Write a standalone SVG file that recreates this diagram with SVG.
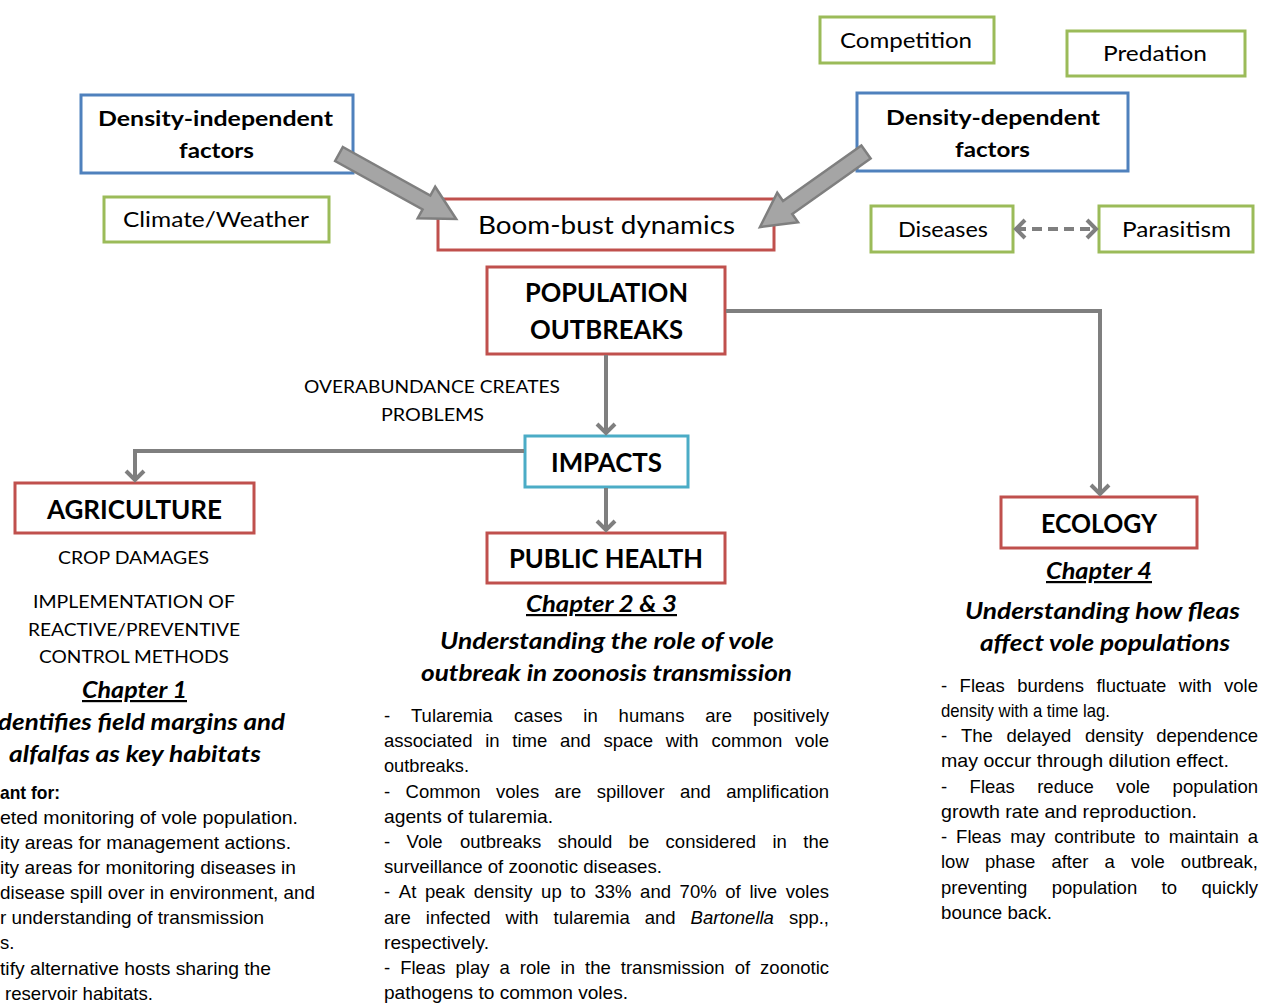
<svg xmlns="http://www.w3.org/2000/svg" width="1263" height="1003" viewBox="0 0 1263 1003">
<style>
.box{fill:#fff;stroke-width:3}
.g{stroke:#9BBB59}.b{stroke:#4F81BD}.r{stroke:#C0504D}.c{stroke:#4BACC6}
text{font-family:Lato,"Liberation Sans",sans-serif;fill:#000}
.lbl{font-size:21px}
.bl{font-size:21px;font-weight:bold}
.hd{font-size:26px;font-weight:bold}
.cap{font-size:18px}
.ch{font-size:22px;font-weight:bold;font-style:italic;text-decoration:underline}
.ti{font-size:22px;font-weight:bold;font-style:italic}
.p{font-size:18.5px;font-family:"Liberation Sans",Arial,sans-serif}
.e{text-anchor:end}
.conn{fill:none;stroke:#7F7F7F;stroke-width:4}
.blk{fill:#A5A5A5;stroke:#7F7F7F;stroke-width:2.5}
</style>
<defs>
<marker id="chev" markerUnits="userSpaceOnUse" markerWidth="30" markerHeight="30" viewBox="-15 -15 30 30" refX="0" refY="0" orient="auto-start-reverse">
<path d="M-9,-9 L0,0 L-9,9" fill="none" stroke="#7F7F7F" stroke-width="4"/>
</marker>
</defs>

<g id="competition"><rect class="box g" x="820" y="17" width="174" height="46"/><text class="lbl" x="840" y="48" textLength="132" lengthAdjust="spacingAndGlyphs">Competition</text></g>
<g id="predation"><rect class="box g" x="1067" y="31" width="178" height="45"/><text class="lbl" x="1103" y="61" textLength="104" lengthAdjust="spacingAndGlyphs">Predation</text></g>
<g id="density-independent"><rect class="box b" x="81" y="95" width="272" height="78"/><text class="bl" x="98" y="126" textLength="235" lengthAdjust="spacingAndGlyphs">Density-independent</text><text class="bl" x="179" y="158" textLength="75" lengthAdjust="spacingAndGlyphs">factors</text></g>
<g id="density-dependent"><rect class="box b" x="857" y="93" width="271" height="78"/><text class="bl" x="886" y="125" textLength="214" lengthAdjust="spacingAndGlyphs">Density-dependent</text><text class="bl" x="955" y="157" textLength="75" lengthAdjust="spacingAndGlyphs">factors</text></g>
<g id="climate"><rect class="box g" x="104" y="197" width="225" height="45"/><text class="lbl" x="123" y="227" textLength="186" lengthAdjust="spacingAndGlyphs">Climate/Weather</text></g>
<g id="boom-bust"><rect class="box r" x="438" y="199" width="336" height="51"/><text style="font-size:25px" x="478" y="234" textLength="257" lengthAdjust="spacingAndGlyphs">Boom-bust dynamics</text></g>
<g id="diseases"><rect class="box g" x="871" y="206" width="142" height="46"/><text class="lbl" x="898" y="237" textLength="90" lengthAdjust="spacingAndGlyphs">Diseases</text></g>
<g id="parasitism"><rect class="box g" x="1099" y="206" width="154" height="46"/><text class="lbl" x="1122" y="237" textLength="109" lengthAdjust="spacingAndGlyphs">Parasitism</text></g>
<g id="population-outbreaks"><rect class="box r" x="487" y="267" width="238" height="87"/><text class="hd" x="525" y="302" textLength="163" lengthAdjust="spacingAndGlyphs">POPULATION</text><text class="hd" x="530" y="339" textLength="153" lengthAdjust="spacingAndGlyphs">OUTBREAKS</text></g>
<g id="overabundance-label"><text class="cap" x="304" y="393" textLength="256" lengthAdjust="spacingAndGlyphs">OVERABUNDANCE CREATES</text><text class="cap" x="381" y="421" textLength="103" lengthAdjust="spacingAndGlyphs">PROBLEMS</text></g>
<g id="impacts"><rect class="box c" x="525" y="436" width="163" height="51"/><text class="hd" x="551" y="472" textLength="111" lengthAdjust="spacingAndGlyphs">IMPACTS</text></g>

<g id="agriculture"><rect class="box r" x="15" y="483" width="239" height="50"/><text class="hd" x="47" y="519" textLength="175" lengthAdjust="spacingAndGlyphs">AGRICULTURE</text>
<text class="cap" x="58" y="564" textLength="151" lengthAdjust="spacingAndGlyphs">CROP DAMAGES</text>
<text class="cap" x="33" y="608" textLength="202" lengthAdjust="spacingAndGlyphs">IMPLEMENTATION OF</text>
<text class="cap" x="28" y="636" textLength="212" lengthAdjust="spacingAndGlyphs">REACTIVE/PREVENTIVE</text>
<text class="cap" x="39" y="663" textLength="190" lengthAdjust="spacingAndGlyphs">CONTROL METHODS</text>
<text class="ch" x="82" y="698" textLength="105" lengthAdjust="spacingAndGlyphs">Chapter 1</text>
<text class="ti" x="-2" y="730" textLength="287" lengthAdjust="spacingAndGlyphs">dentifies field margins and</text>
<text class="ti" x="9" y="762" textLength="252" lengthAdjust="spacingAndGlyphs">alfalfas as key habitats</text>
<text class="p" x="0" y="799" font-weight="bold" textLength="60" lengthAdjust="spacingAndGlyphs">ant for:</text>
<text class="p" x="0" y="824" textLength="298" lengthAdjust="spacingAndGlyphs">eted monitoring of vole population.</text>
<text class="p" x="0" y="849" textLength="291" lengthAdjust="spacingAndGlyphs">ity areas for management actions.</text>
<text class="p" x="0" y="874" textLength="296" lengthAdjust="spacingAndGlyphs">ity areas for monitoring diseases in</text>
<text class="p" x="0" y="899" textLength="315" lengthAdjust="spacingAndGlyphs">disease spill over in environment, and</text>
<text class="p" x="0" y="924" textLength="264" lengthAdjust="spacingAndGlyphs">r understanding of transmission</text>
<text class="p" x="0" y="949">s.</text>
<text class="p" x="0" y="975" textLength="271" lengthAdjust="spacingAndGlyphs">tify alternative hosts sharing the</text>
<text class="p" x="5" y="1000" textLength="148" lengthAdjust="spacingAndGlyphs">reservoir habitats.</text>
</g>

<g id="public-health"><rect class="box r" x="487" y="533" width="238" height="50"/><text class="hd" x="509" y="568" textLength="194" lengthAdjust="spacingAndGlyphs">PUBLIC HEALTH</text>
<text class="ch" x="526" y="612" textLength="151" lengthAdjust="spacingAndGlyphs">Chapter 2 &amp; 3</text>
<text class="ti" x="440" y="649" textLength="334" lengthAdjust="spacingAndGlyphs">Understanding the role of vole</text>
<text class="ti" x="421" y="681" textLength="371" lengthAdjust="spacingAndGlyphs">outbreak in zoonosis transmission</text>
<text class="p" y="722"><tspan x="384">-</tspan> <tspan x="411">Tularemia</tspan> <tspan x="514.1">cases</tspan> <tspan x="583.3">in</tspan> <tspan x="618.6">humans</tspan> <tspan x="705.3">are</tspan> <tspan class="e" x="829">positively</tspan></text>
<text class="p" y="747"><tspan x="384">associated</tspan> <tspan x="485.2">in</tspan> <tspan x="512.3">time</tspan> <tspan x="560">and</tspan> <tspan x="603.6">space</tspan> <tspan x="665.7">with</tspan> <tspan x="711.4">common</tspan> <tspan class="e" x="829">vole</tspan></text>
<text class="p" x="384" y="772" textLength="85" lengthAdjust="spacingAndGlyphs">outbreaks.</text>
<text class="p" y="798"><tspan x="384">-</tspan> <tspan x="405.6">Common</tspan> <tspan x="496">voles</tspan> <tspan x="554.6">are</tspan> <tspan x="596.7">spillover</tspan> <tspan x="680">and</tspan> <tspan class="e" x="829">amplification</tspan></text>
<text class="p" x="384" y="823" textLength="169" lengthAdjust="spacingAndGlyphs">agents of tularemia.</text>
<text class="p" y="848"><tspan x="384">-</tspan> <tspan x="406.6">Vole</tspan> <tspan x="460">outbreaks</tspan> <tspan x="557.7">should</tspan> <tspan x="628.6">be</tspan> <tspan x="665.6">considered</tspan> <tspan x="772.5">in</tspan> <tspan class="e" x="829">the</tspan></text>
<text class="p" x="384" y="873" textLength="278" lengthAdjust="spacingAndGlyphs">surveillance of zoonotic diseases.</text>
<text class="p" y="898"><tspan x="384">-</tspan> <tspan x="398.8">At</tspan> <tspan x="425">peak</tspan> <tspan x="473.8">density</tspan> <tspan x="541.1">up</tspan> <tspan x="570.3">to</tspan> <tspan x="594.4">33%</tspan> <tspan x="640.1">and</tspan> <tspan x="679.6">70%</tspan> <tspan x="725.3">of</tspan> <tspan x="749.4">live</tspan> <tspan class="e" x="829">voles</tspan></text>
<text class="p" y="924"><tspan x="384">are</tspan> <tspan x="425.8">infected</tspan> <tspan x="505.6">with</tspan> <tspan x="553.6">tularemia</tspan> <tspan x="644.7">and</tspan> <tspan x="690.6" font-style="italic">Bartonella</tspan> <tspan class="e" x="829">spp.,</tspan></text>
<text class="p" x="384" y="949" textLength="105" lengthAdjust="spacingAndGlyphs">respectively.</text>
<text class="p" y="974"><tspan x="384">-</tspan> <tspan x="400.2">Fleas</tspan> <tspan x="455.5">play</tspan> <tspan x="499.4">a</tspan> <tspan x="519.8">role</tspan> <tspan x="560.6">in</tspan> <tspan x="585.1">the</tspan> <tspan x="620.8">transmission</tspan> <tspan x="734.7">of</tspan> <tspan class="e" x="829">zoonotic</tspan></text>
<text class="p" x="384" y="999" textLength="244" lengthAdjust="spacingAndGlyphs">pathogens to common voles.</text>
</g>

<g id="ecology"><rect class="box r" x="1001" y="497" width="196" height="51"/><text class="hd" x="1041" y="533" textLength="116" lengthAdjust="spacingAndGlyphs">ECOLOGY</text>
<text class="ch" x="1046" y="579" textLength="106" lengthAdjust="spacingAndGlyphs">Chapter 4</text>
<text class="ti" x="965" y="619" textLength="275" lengthAdjust="spacingAndGlyphs">Understanding how fleas</text>
<text class="ti" x="980" y="651" textLength="250" lengthAdjust="spacingAndGlyphs">affect vole populations</text>
<text class="p" y="692"><tspan x="941">-</tspan> <tspan x="959.6">Fleas</tspan> <tspan x="1017.2">burdens</tspan> <tspan x="1096.4">fluctuate</tspan> <tspan x="1178.8">with</tspan> <tspan class="e" x="1258">vole</tspan></text>
<text class="p" x="941" y="717" textLength="169" lengthAdjust="spacingAndGlyphs">density with a time lag.</text>
<text class="p" y="742"><tspan x="941">-</tspan> <tspan x="960.9">The</tspan> <tspan x="1006.5">delayed</tspan> <tspan x="1085">density</tspan> <tspan class="e" x="1258">dependence</tspan></text>
<text class="p" x="941" y="767" textLength="288" lengthAdjust="spacingAndGlyphs">may occur through dilution effect.</text>
<text class="p" y="793"><tspan x="941">-</tspan> <tspan x="969.6">Fleas</tspan> <tspan x="1037.2">reduce</tspan> <tspan x="1116.2">vole</tspan> <tspan class="e" x="1258">population</tspan></text>
<text class="p" x="941" y="818" textLength="256" lengthAdjust="spacingAndGlyphs">growth rate and reproduction.</text>
<text class="p" y="843"><tspan x="941">-</tspan> <tspan x="956.1">Fleas</tspan> <tspan x="1010.3">may</tspan> <tspan x="1054.2">contribute</tspan> <tspan x="1144.4">to</tspan> <tspan x="1168.8">maintain</tspan> <tspan class="e" x="1258">a</tspan></text>
<text class="p" y="868"><tspan x="941">low</tspan> <tspan x="984.9">phase</tspan> <tspan x="1051.4">after</tspan> <tspan x="1104.5">a</tspan> <tspan x="1130.9">vole</tspan> <tspan class="e" x="1258">outbreak,</tspan></text>
<text class="p" y="894"><tspan x="941">preventing</tspan> <tspan x="1051.8">population</tspan> <tspan x="1161.6">to</tspan> <tspan class="e" x="1258">quickly</tspan></text>
<text class="p" x="941" y="919" textLength="111" lengthAdjust="spacingAndGlyphs">bounce back.</text>
</g>

<g id="connectors">
<polygon class="blk" transform="translate(339,154) rotate(29)" points="0,-8 100,-8 100,-18 134,0 100,18 100,8 0,8"/>
<polygon class="blk" transform="translate(866,152) rotate(144.7)" points="0,-8 96,-8 96,-18 130,0 96,18 96,8 0,8"/>
<line class="conn" x1="1016" y1="229" x2="1096" y2="229" stroke-dasharray="10,6" marker-start="url(#chev)" marker-end="url(#chev)"/>
<line class="conn" x1="606" y1="355" x2="606" y2="433" marker-end="url(#chev)"/>
<polyline class="conn" points="524,451 135,451 135,480" marker-end="url(#chev)"/>
<line class="conn" x1="606" y1="488" x2="606" y2="530" marker-end="url(#chev)"/>
<polyline class="conn" points="726,311 1100,311 1100,494" marker-end="url(#chev)"/>
</g>
</svg>
